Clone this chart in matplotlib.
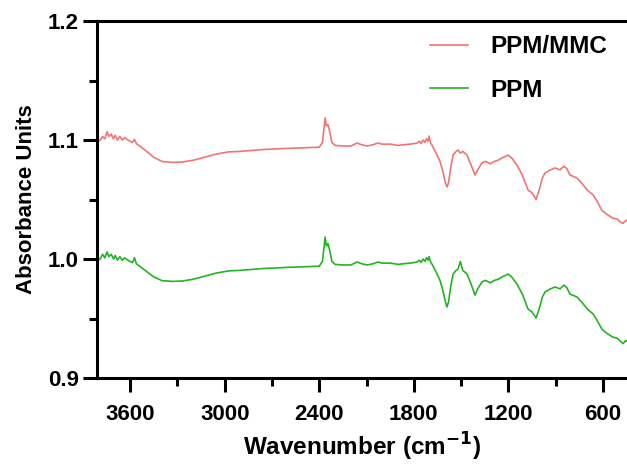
import matplotlib.pyplot as plt
from matplotlib.ticker import MultipleLocator

# wavenumbers (cm-1)
wavenumber = [3805, 3790, 3775, 3760, 3746, 3735, 3720, 3705, 3695, 3680,
              3665, 3650, 3635, 3613, 3600, 3585, 3572, 3560, 3500, 3450,
              3397, 3330, 3270, 3200, 3143, 3060, 2978, 2900, 2852, 2760,
              2680, 2600, 2500, 2400, 2380, 2363, 2355, 2345, 2335, 2320,
              2300, 2250, 2200, 2160, 2130, 2097, 2060, 2027, 2000, 1951,
              1900, 1869, 1830, 1800, 1780, 1765, 1755, 1742, 1730, 1720,
              1710, 1704, 1695, 1678, 1655, 1634, 1615, 1600, 1590, 1580,
              1565, 1551, 1535, 1520, 1505, 1490, 1463, 1440, 1412, 1395,
              1368, 1350, 1336, 1317, 1290, 1266, 1240, 1215, 1203, 1180,
              1146, 1110, 1076, 1050, 1025, 1005, 985, 968, 940, 905,
              873, 848, 830, 810, 790, 765, 730, 700, 683, 664,
              640, 607, 580, 540, 511, 490, 473, 455, 448]

ppm_mmc = [1.099, 1.100, 1.103, 1.101, 1.107, 1.103, 1.105, 1.101, 1.104, 1.100,
           1.103, 1.100, 1.102, 1.100, 1.099, 1.098, 1.1005, 1.097, 1.091, 1.0855,
           1.082, 1.0812, 1.0815, 1.083, 1.085, 1.088, 1.090, 1.0905, 1.091, 1.092,
           1.0925, 1.093, 1.0935, 1.094, 1.098, 1.1185, 1.112, 1.113, 1.108, 1.098,
           1.0955, 1.095, 1.095, 1.0975, 1.096, 1.095, 1.096, 1.0975, 1.0965, 1.0966,
           1.0955, 1.096, 1.0965, 1.097, 1.0975, 1.099, 1.097, 1.100, 1.098, 1.101,
           1.099, 1.1034, 1.098, 1.094, 1.088, 1.082, 1.073, 1.064, 1.0605, 1.064,
           1.078, 1.0874, 1.090, 1.0916, 1.089, 1.0905, 1.0874, 1.080, 1.0706, 1.075,
           1.0807, 1.082, 1.0815, 1.080, 1.082, 1.083, 1.085, 1.0865, 1.0874, 1.085,
           1.079, 1.070, 1.058, 1.0555, 1.050, 1.058, 1.068, 1.0723, 1.0745, 1.0765,
           1.075, 1.078, 1.076, 1.0706, 1.0695, 1.068, 1.063, 1.058, 1.056, 1.054,
           1.049, 1.041, 1.038, 1.0345, 1.0335, 1.031, 1.030, 1.0325, 1.032]

ppm = [0.999, 1.000, 1.004, 1.001, 1.006, 1.002, 1.004, 1.000, 1.003, 0.999,
       1.002, 0.999, 1.001, 0.999, 0.998, 0.997, 1.001, 0.996, 0.990, 0.985,
       0.9818, 0.9812, 0.9815, 0.983, 0.985, 0.988, 0.990, 0.9905, 0.991, 0.992,
       0.9925, 0.993, 0.9935, 0.994, 0.998, 1.0185, 1.011, 1.013, 1.008, 0.998,
       0.9955, 0.995, 0.995, 0.9975, 0.996, 0.995, 0.996, 0.9975, 0.9965, 0.9966,
       0.9955, 0.996, 0.9965, 0.997, 0.9975, 0.999, 0.997, 1.000, 0.998, 1.001,
       0.999, 1.002, 0.998, 0.994, 0.988, 0.982, 0.973, 0.964, 0.9597, 0.964,
       0.978, 0.9874, 0.990, 0.9916, 0.998, 0.9905, 0.9874, 0.980, 0.9697, 0.975,
       0.9807, 0.982, 0.9815, 0.980, 0.982, 0.983, 0.985, 0.9865, 0.9874, 0.985,
       0.979, 0.970, 0.958, 0.9555, 0.9504, 0.958, 0.968, 0.9723, 0.9745, 0.9765,
       0.975, 0.978, 0.976, 0.9706, 0.9695, 0.968, 0.963, 0.958, 0.956, 0.954,
       0.949, 0.941, 0.938, 0.9345, 0.9335, 0.931, 0.929, 0.9315, 0.931]

plt.rcParams['font.family'] = ['Liberation Sans', 'DejaVu Sans']
plt.rcParams['font.weight'] = 'bold'

fig = plt.figure(figsize=(6.27, 4.66), dpi=100)
ax = fig.add_axes([0.1547, 0.1888, 0.8453, 0.766])

ax.plot(wavenumber, ppm_mmc, color='#F07575', lw=1.2, label='PPM/MMC')
ax.plot(wavenumber, ppm, color='#22B422', lw=1.2, label='PPM')

ax.set_xlim(3810, 448)
ax.set_ylim(0.9, 1.2)
ax.xaxis.set_major_locator(MultipleLocator(600))
ax.xaxis.set_minor_locator(MultipleLocator(300))
ax.yaxis.set_major_locator(MultipleLocator(0.1))
ax.yaxis.set_minor_locator(MultipleLocator(0.05))

for side in ['left', 'bottom', 'top']:
    ax.spines[side].set_linewidth(2.2)
ax.spines['right'].set_visible(False)

ax.tick_params(which='major', direction='out', length=10, width=2.2, labelsize=16)
ax.tick_params(which='minor', direction='out', length=5.5, width=2.2)
ax.tick_params(axis='x', which='major', pad=9)
ax.tick_params(axis='y', which='major', pad=3)

ax.set_xlabel('Wavenumber (cm$^{\\mathbf{-1}}$)', fontsize=17.5, fontweight='bold', labelpad=4)
ax.set_ylabel('Absorbance Units', fontsize=16, fontweight='bold', labelpad=8)

ax.legend(loc='upper left', bbox_to_anchor=(0.628, 0.96), frameon=False,
          prop={'weight': 'bold', 'size': 17.5}, handlelength=1.55,
          handletextpad=0.95, labelspacing=0.85, borderpad=0, borderaxespad=0)

fig.savefig('out.png', dpi=100)
